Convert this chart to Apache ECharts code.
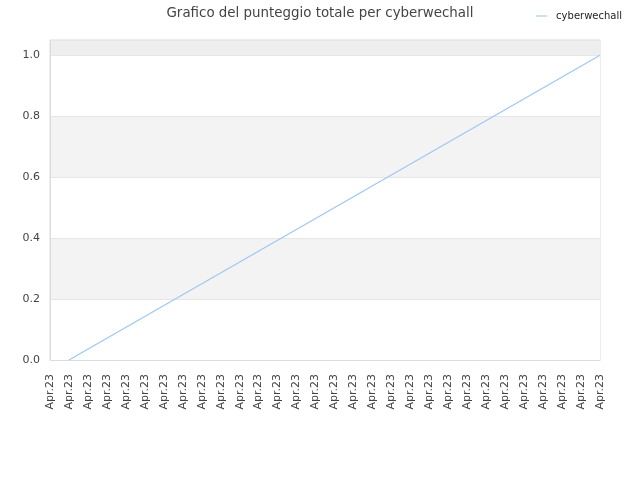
<!DOCTYPE html>
<html>
<head>
<meta charset="utf-8">
<script src="https://cdn.jsdelivr.net/npm/echarts@6/dist/echarts.min.js"></script>
<style>
  html, body { margin: 0; padding: 0; background: #fff; }
  #chart { width: 640px; height: 480px; }
</style>
</head>
<body>
<div id="chart"></div>
<script>
"use strict";

// 30 daily points, all labelled with the same month
const categories = Array(30).fill('Apr.23');

// score: first point empty, then 0 rising to 1 at the last day
const scores = [null, 0, null, null, null, null, null, null, null, null,
    null, null, null, null, null, null, null, null, null, null,
    null, null, null, null, null, null, null, null, null, 1];

const yTicks = [0, 0.2, 0.4, 0.6, 0.8, 1.0];

const chart = echarts.init(document.getElementById('chart'));

const option = {
    animation: false,
    textStyle: { fontFamily: 'DejaVu Sans' },
    title: {
        text: 'Grafico del punteggio totale per cyberwechall',
        left: 'center',
        top: 2,
        textStyle: { fontSize: 13.4, fontWeight: 'normal', color: '#444' }
    },
    legend: {
        right: 13,
        top: 6,
        icon: 'path://M0,0 L10,0 L10,1 L0,1 Z',
        itemWidth: 11,
        itemHeight: 2,
        itemGap: 8,
        textStyle: { fontSize: 10, color: '#222', padding: [0, 0, 0, 4] },
        data: ['cyberwechall']
    },
    grid: {
        left: 50,
        right: 40,
        top: 40,
        bottom: 120,
        show: true,
        borderColor: '#dcdcdc',
        borderWidth: 1
    },
    xAxis: {
        type: 'category',
        boundaryGap: false,
        data: categories,
        axisLine: { lineStyle: { color: '#dcdcdc' } },
        axisTick: { show: false },
        axisLabel: {
            rotate: 90,
            interval: 0,
            color: '#444',
            fontSize: 11,
            margin: 14
        },
        splitLine: { show: false }
    },
    yAxis: {
        type: 'value',
        min: 0,
        max: 1.05,
        interval: 0.2,
        axisLine: { show: true, lineStyle: { color: '#dcdcdc' } },
        axisTick: { show: false },
        axisLabel: {
            color: '#444',
            fontSize: 11,
            margin: 10,
            formatter: v => yTicks.some(t => Math.abs(t - v) < 1e-9) ? v.toFixed(1) : ''
        },
        splitLine: { show: true, lineStyle: { color: '#e6e6e6' } },
        splitArea: {
            show: true,
            areaStyle: { color: ['#ffffff', '#f3f3f3', '#ffffff', '#f3f3f3', '#ffffff', '#eeeeee'] }
        }
    },
    series: [
        {
            name: 'cyberwechall',
            type: 'line',
            data: scores,
            connectNulls: true,
            showSymbol: false,
            color: '#9fc8f2',
            lineStyle: { width: 1.3, color: '#9fc8f2' }
        }
    ]
};

chart.setOption(option);
</script>
</body>
</html>
